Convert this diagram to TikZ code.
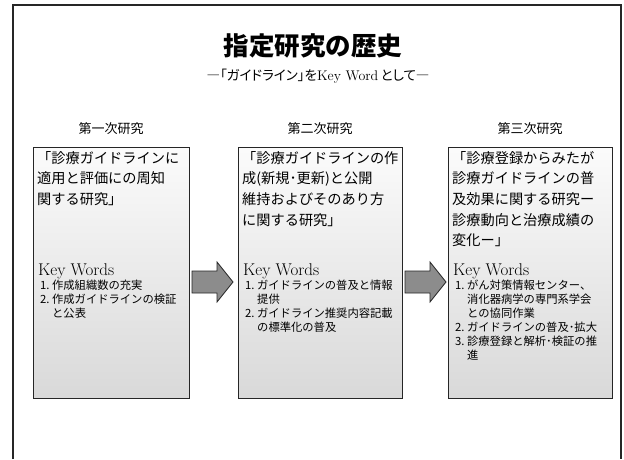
\documentclass[tikz,border=0pt]{standalone}
\usepackage{fontspec}
\newfontfamily\jp{Noto Sans CJK JP}
\newfontfamily\jpp[RawFeature=+palt]{Noto Sans CJK JP}
\begin{document}
\begin{tikzpicture}[x=1pt,y=-1pt,
  frameline/.style={line width=1.6pt, draw=black!85},
  panel/.style={draw=black!85, line width=0.9pt, top color=gray!3, bottom color=gray!30,
    minimum width=#1, minimum height=251pt, anchor=north west, inner sep=0pt},
  blockarrow/.style={draw=black!85, line width=0.8pt, fill=black!45},
  heading/.style={font=\jp\fontsize{13}{15}\selectfont, inner sep=0pt},
  ptitle/.style={font=\jp\fontsize{14.2}{20.6}\selectfont, align=left, anchor=north west, inner sep=0pt},
  kw/.style={font=\fontsize{17}{18}\selectfont, anchor=west, inner sep=0pt},
  plist/.style={font=\jp\fontsize{11.3}{14}\selectfont, align=left, anchor=north west, inner sep=0pt}
]
\useasboundingbox (0,0) rectangle (624,459);
% outer frame (open at the bottom)
\draw[frameline] (13,459) -- (13,5) -- (621,5) -- (621,459);

% title
\node[font=\jp\bfseries\fontsize{25.5}{28}\selectfont, inner sep=0pt] (title) at (313,46) {指定研究の歴史};
\node[inner sep=0pt] (subtitle) at (318,76) {{\jpp\fontsize{13.5}{15}\selectfont ―「ガイドライン」を}{\fontsize{14}{15}\selectfont Key Word\,}{\jpp\fontsize{13.5}{15}\selectfont として―}};

% headings
\node[heading] (h1) at (111,129) {第一次研究};
\node[heading] (h2) at (320,129) {第二次研究};
\node[heading] (h3) at (530,129) {第三次研究};

% panels
\node[panel=156pt] (b1) at (33,147) {};
\node[panel=164pt] (b2) at (238,147) {};
\node[panel=164pt] (b3) at (448,147) {};

% panel 1
\node[ptitle] (t1) at (37,151) {「診療ガイドラインに\\適用と評価にの周知\\関する研究」};
\node[kw] (k1) at (38,271) {Key Words};
\node[plist] (l1) at (40,280) {1.\ 作成組織数の充実\\2.\ 作成ガイドラインの検証\\\hspace*{12pt}と公表};

% panel 2
\node[ptitle] (t2) at (242,151) {「診療ガイドラインの作\\成(新規･更新)と公開\\維持およびそのあり方\\に関する研究」};
\node[kw] (k2) at (243,271) {Key Words};
\node[plist] (l2) at (245,280) {1.\ ガイドラインの普及と情報\\\hspace*{12pt}提供\\2.\ ガイドライン推奨内容記載\\\hspace*{12pt}の標準化の普及};

% panel 3
\node[ptitle] (t3) at (452,151) {「診療登録からみたが\\診療ガイドラインの普\\及効果に関する研究ー\\診療動向と治療成績の\\変化ー」};
\node[kw] (k3) at (453,271) {Key Words};
\node[plist] (l3) at (455,280) {1.\ がん対策情報センター、\\\hspace*{12pt}消化器病学の専門系学会\\\hspace*{12pt}との協同作業\\2.\ ガイドラインの普及･拡大\\3.\ 診療登録と解析･検証の推\\\hspace*{12pt}進};

% block arrows
\draw[blockarrow] (192,271) -- (217,271) -- (217,262) -- (233,282) -- (217,302) -- (217,293) -- (192,293) -- cycle;
\draw[blockarrow] (405,271) -- (430,271) -- (430,262) -- (446,282) -- (430,302) -- (430,293) -- (405,293) -- cycle;
\end{tikzpicture}
\end{document}
